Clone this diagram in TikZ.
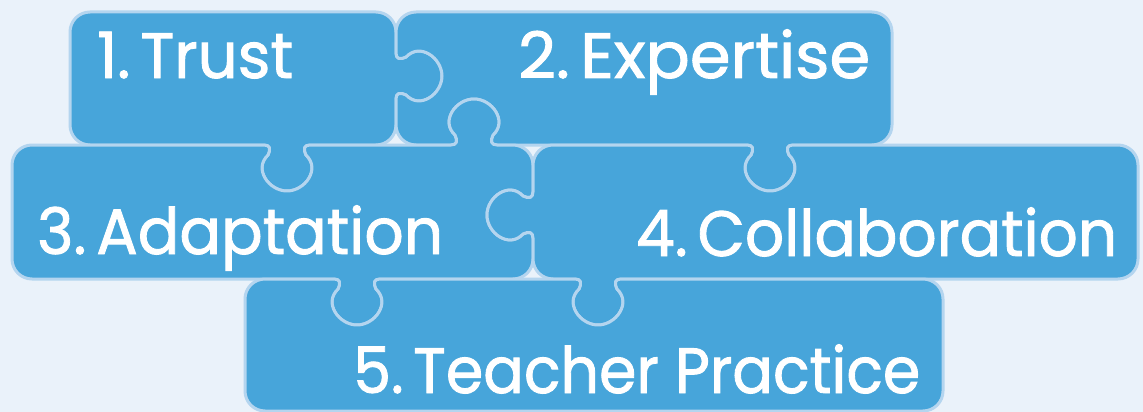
\documentclass[tikz,border=0pt]{standalone}
\usepackage{fontspec}
\newfontfamily\lblfont{Poppins}[FakeBold=1.4]
\definecolor{bgc}{HTML}{EAF2FA}
\definecolor{piece}{HTML}{47A5DA}
\definecolor{seam}{HTML}{B4D5EF}
% corner radius of the puzzle pieces
\def\rr{20}
% rounded corner at (#1,#2): incoming direction (#3,#4), outgoing direction (#5,#6)
\newcommand\cnr[6]{-- ({#1-\rr*(#3)},{#2-\rr*(#4)})
  .. controls ({#1-0.448*\rr*(#3)},{#2-0.448*\rr*(#4)}) and ({#1+0.448*\rr*(#5)},{#2+0.448*\rr*(#6)})
  .. ({#1+\rr*(#5)},{#2+\rr*(#6)})}
% tab centred at (#1,#2) on an edge run in direction (#3,#4); #5 = 1 for a knob, -1 for a socket
\newcommand\knob[5]{%
  -- ({#1+(-23)*(#3)+(0)*(#5)*(#4)},{#2+(-23)*(#4)-(0)*(#5)*(#3)})
  .. controls ({#1+(-17)*(#3)+(0)*(#5)*(#4)},{#2+(-17)*(#4)-(0)*(#5)*(#3)})
  and ({#1+(-16)*(#3)+(4)*(#5)*(#4)},{#2+(-16)*(#4)-(4)*(#5)*(#3)})
  .. ({#1+(-19)*(#3)+(10)*(#5)*(#4)},{#2+(-19)*(#4)-(10)*(#5)*(#3)})
  .. controls ({#1+(-34)*(#3)+(24)*(#5)*(#4)},{#2+(-34)*(#4)-(24)*(#5)*(#3)})
  and ({#1+(-18)*(#3)+(46)*(#5)*(#4)},{#2+(-18)*(#4)-(46)*(#5)*(#3)})
  .. ({#1+(0)*(#3)+(46)*(#5)*(#4)},{#2+(0)*(#4)-(46)*(#5)*(#3)})
  .. controls ({#1+(18)*(#3)+(46)*(#5)*(#4)},{#2+(18)*(#4)-(46)*(#5)*(#3)})
  and ({#1+(34)*(#3)+(24)*(#5)*(#4)},{#2+(34)*(#4)-(24)*(#5)*(#3)})
  .. ({#1+(19)*(#3)+(10)*(#5)*(#4)},{#2+(19)*(#4)-(10)*(#5)*(#3)})
  .. controls ({#1+(16)*(#3)+(4)*(#5)*(#4)},{#2+(16)*(#4)-(4)*(#5)*(#3)})
  and ({#1+(17)*(#3)+(0)*(#5)*(#4)},{#2+(17)*(#4)-(0)*(#5)*(#3)})
  .. ({#1+(23)*(#3)+(0)*(#5)*(#4)},{#2+(23)*(#4)-(0)*(#5)*(#3)})}
% label set to a given width: number, a narrow gap, then the word(s)
\newcommand\lbl[3]{\resizebox{#1pt}{\height}{#2\hspace{0.16em}#3}}
\begin{document}
\begin{tikzpicture}[x=1pt,y=-1pt,
  piecebox/.style={fill=piece,draw=seam,line width=3pt,line join=round},
  piecetext/.style={anchor=base west,inner sep=0pt,text=white,
    font=\lblfont\fontsize{64}{64}\selectfont}]
\fill[bgc] (0,0) rectangle (1143,412);
\useasboundingbox (0,0) rectangle (1143,412);
% 1. Trust
\draw[piecebox] (90,12) \cnr{396}{12}{1}{0}{0}{1}
  \knob{396}{76}{0}{1}{1}
  \cnr{396}{145}{0}{1}{-1}{0}
  \knob{287}{145}{-1}{0}{1}
  \cnr{70}{145}{-1}{0}{0}{-1}
  \cnr{70}{12}{0}{-1}{1}{0} -- cycle;
% 2. Expertise
\draw[piecebox] (416,12) \cnr{892}{12}{1}{0}{0}{1}
  \cnr{892}{145}{0}{1}{-1}{0}
  \knob{770}{145}{-1}{0}{1}
  \knob{474}{145}{-1}{0}{-1}
  \cnr{396}{145}{-1}{0}{0}{-1}
  \knob{396}{76}{0}{-1}{-1}
  \cnr{396}{12}{0}{-1}{1}{0} -- cycle;
% 3. Adaptation
\draw[piecebox] (32,145)
  \knob{287}{145}{1}{0}{-1}
  \knob{474}{145}{1}{0}{1}
  \cnr{533}{145}{1}{0}{0}{1}
  \knob{533}{215}{0}{1}{-1}
  \cnr{533}{279}{0}{1}{-1}{0}
  \knob{357}{279}{-1}{0}{1}
  \cnr{12}{279}{-1}{0}{0}{-1}
  \cnr{12}{145}{0}{-1}{1}{0} -- cycle;
% 4. Collaboration
\draw[piecebox] (553,145)
  \knob{770}{145}{1}{0}{-1}
  \cnr{1138}{145}{1}{0}{0}{1}
  \cnr{1138}{279}{0}{1}{-1}{0}
  \knob{598}{279}{-1}{0}{1}
  \cnr{533}{279}{-1}{0}{0}{-1}
  \knob{533}{215}{0}{-1}{1}
  \cnr{533}{145}{0}{-1}{1}{0} -- cycle;
% 5. Teacher Practice
\draw[piecebox] (265,279)
  \knob{357}{279}{1}{0}{-1}
  \knob{598}{279}{1}{0}{-1}
  \cnr{943}{279}{1}{0}{0}{1}
  \cnr{943}{411}{0}{1}{-1}{0}
  \cnr{245}{411}{-1}{0}{0}{-1}
  \cnr{245}{279}{0}{-1}{1}{0} -- cycle;
% labels
\node[piecetext] (t1) at (97,78) {\lbl{196}{1.}{Trust}};
\node[piecetext] (t2) at (518,78) {\lbl{352}{2.}{Expertise}};
\node[piecetext] (t3) at (37,254) {\lbl{406}{3.}{Adaptation}};
\node[piecetext] (t4) at (636,256) {\lbl{481}{4.}{Collaboration}};
\node[piecetext] (t5) at (353,393) {\lbl{567}{5.}{Teacher Practice}};
\end{tikzpicture}
\end{document}
